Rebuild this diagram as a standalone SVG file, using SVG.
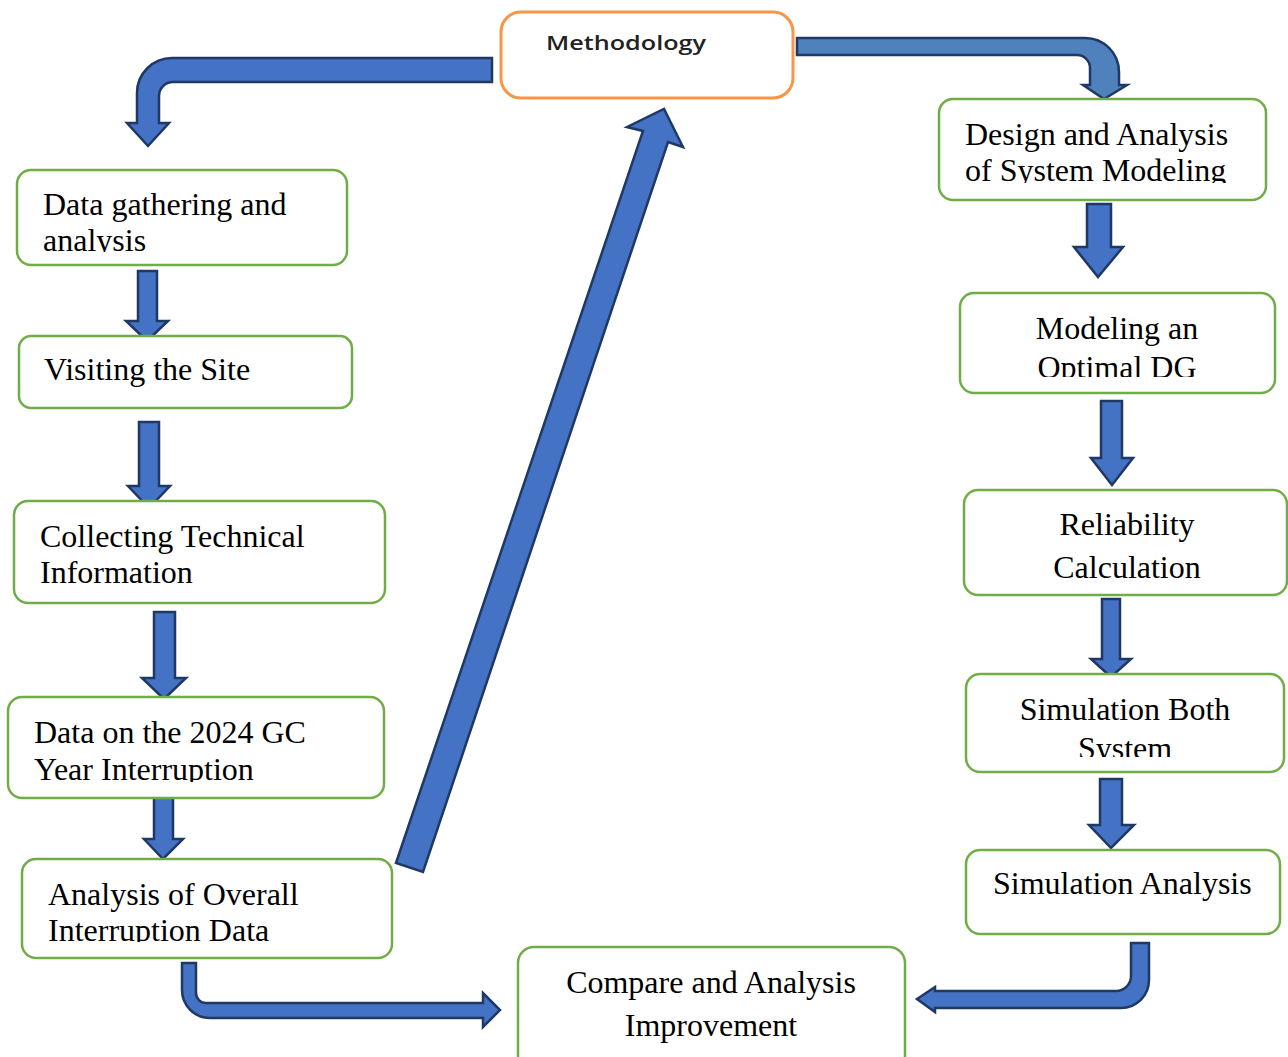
<svg xmlns="http://www.w3.org/2000/svg" width="1288" height="1057" viewBox="0 0 1288 1057">
<style>
.box{fill:#fff;stroke:#70AD47;stroke-width:2.5}
.meth{fill:#fff;stroke:#F79646;stroke-width:3}
.t{font-family:"Liberation Serif","Times New Roman",serif;font-size:32px;fill:#000}
.c{text-anchor:middle}
.arr{fill:#4472C4;stroke:#1F3864;stroke-width:2.5;stroke-linejoin:miter}
.arr2{fill:#4F81BD;stroke:#1F3864;stroke-width:2.5}
</style>
<defs>
<clipPath id="cl1"><rect x="0" y="0" width="1288" height="252"/></clipPath>
<clipPath id="cl4"><rect x="0" y="0" width="1288" height="782"/></clipPath>
<clipPath id="cl5"><rect x="0" y="0" width="1288" height="942"/></clipPath>
<clipPath id="clr1"><rect x="0" y="0" width="1288" height="183"/></clipPath>
<clipPath id="clr2"><rect x="0" y="0" width="1288" height="377"/></clipPath>
<clipPath id="clr4"><rect x="0" y="0" width="1288" height="757"/></clipPath>
</defs>
<rect width="1288" height="1057" fill="#fff"/>

<g id="connectors">
<path class="arr" d="M492 58 L172 58 A35 35 0 0 0 137 93 L137 123 L127 123 L148 146 L169 123 L159 123 L159 96 A14 14 0 0 1 173 82 L492 82 Z"/>
<path class="arr2" d="M797 38 L1085 38 A34 34 0 0 1 1119 72 L1119 85 L1127 85 L1104 99 L1083 85 L1090 85 L1090 68 A13 13 0 0 0 1077 55 L797 55 Z"/>
<path class="arr" d="M138 271 L157 271 L157 321 L168 321 L147 341 L126 321 L138 321 Z"/>
<path class="arr" d="M139 422 L159 422 L159 486 L170 486 L149 508 L128 486 L139 486 Z"/>
<path class="arr" d="M154 612 L175 612 L175 678 L186 678 L164 699 L142 678 L154 678 Z"/>
<path class="arr" d="M154 794 L173 794 L173 839 L183 839 L163 859 L144 839 L154 839 Z"/>
<path class="arr" d="M396 863 L643 131 L627 127 L664 109 L683 147 L668 142 L423 872 Z"/>
<path class="arr" d="M182 963 L196 963 L196 993 A10 10 0 0 0 206 1003 L483 1003 L483 993 L500 1010 L483 1027 L483 1018 L210 1018 A28 28 0 0 1 182 990 Z"/>
<path class="arr" d="M1087 204 L1111 204 L1111 247 L1123 247 L1098 277 L1074 247 L1087 247 Z"/>
<path class="arr" d="M1101 401 L1122 401 L1122 458 L1133 458 L1112 485 L1091 458 L1101 458 Z"/>
<path class="arr" d="M1102 599 L1120 599 L1120 659 L1131 659 L1111 677 L1091 659 L1102 659 Z"/>
<path class="arr" d="M1100 779 L1122 779 L1122 825 L1134 825 L1111 848 L1089 825 L1100 825 Z"/>
<path class="arr" d="M1131 943 L1149 943 L1149 980 A28 28 0 0 1 1121 1008 L935 1008 L935 1012 L917 999 L935 987 L935 991 L1116 991 A15 15 0 0 0 1131 976 Z"/>
</g>

<g id="methodology">
<rect class="meth" x="501" y="12" width="292" height="86" rx="20"/>
<text x="546" y="50" font-family="'Open Sans','DejaVu Sans',sans-serif" font-size="19" font-weight="600" fill="#222" textLength="160" lengthAdjust="spacingAndGlyphs">Methodology</text>
</g>

<g id="data-gathering">
<rect class="box" x="17" y="170" width="330" height="95" rx="14"/>
<g clip-path="url(#cl1)"><text class="t" x="43" y="215">Data gathering and</text><text class="t" x="43" y="251">analysis</text></g>
</g>

<g id="visiting-site">
<rect class="box" x="19" y="336" width="333" height="72" rx="12"/>
<text class="t" x="44" y="380">Visiting the Site</text>
</g>

<g id="collecting-info">
<rect class="box" x="14" y="501" width="371" height="102" rx="14"/>
<text class="t" x="40" y="547">Collecting Technical</text>
<text class="t" x="40" y="583">Information</text>
</g>

<g id="data-2024">
<rect class="box" x="8" y="697" width="376" height="101" rx="14"/>
<g clip-path="url(#cl4)"><text class="t" x="34" y="743">Data on the 2024 GC</text><text class="t" x="34" y="780">Year Interruption</text></g>
</g>

<g id="analysis-overall">
<rect class="box" x="22" y="859" width="370" height="99" rx="14"/>
<g clip-path="url(#cl5)"><text class="t" x="48" y="905">Analysis of Overall</text><text class="t" x="48" y="941">Interruption Data</text></g>
</g>

<g id="design-analysis">
<rect class="box" x="939" y="99" width="327" height="101" rx="14"/>
<g clip-path="url(#clr1)"><text class="t" x="965" y="145">Design and Analysis</text><text class="t" x="965" y="181">of System Modeling</text></g>
</g>

<g id="modeling-dg">
<rect class="box" x="960" y="293" width="315" height="100" rx="14"/>
<g clip-path="url(#clr2)"><text class="t c" x="1117" y="339">Modeling an</text><text class="t c" x="1117" y="378">Optimal DG</text></g>
</g>

<g id="reliability">
<rect class="box" x="964" y="490" width="323" height="105" rx="14"/>
<text class="t c" x="1127" y="535">Reliability</text>
<text class="t c" x="1127" y="578">Calculation</text>
</g>

<g id="simulation-both">
<rect class="box" x="966" y="674" width="318" height="98" rx="14"/>
<g clip-path="url(#clr4)"><text class="t c" x="1125" y="720">Simulation Both</text><text class="t c" x="1125" y="759">System</text></g>
</g>

<g id="simulation-analysis">
<rect class="box" x="966" y="850" width="314" height="84" rx="14"/>
<text class="t" x="993" y="894">Simulation Analysis</text>
</g>

<g id="compare">
<rect class="box" x="518" y="947" width="387" height="125" rx="16"/>
<text class="t c" x="711" y="993">Compare and Analysis</text>
<text class="t c" x="711" y="1036">Improvement</text>
</g>
</svg>
